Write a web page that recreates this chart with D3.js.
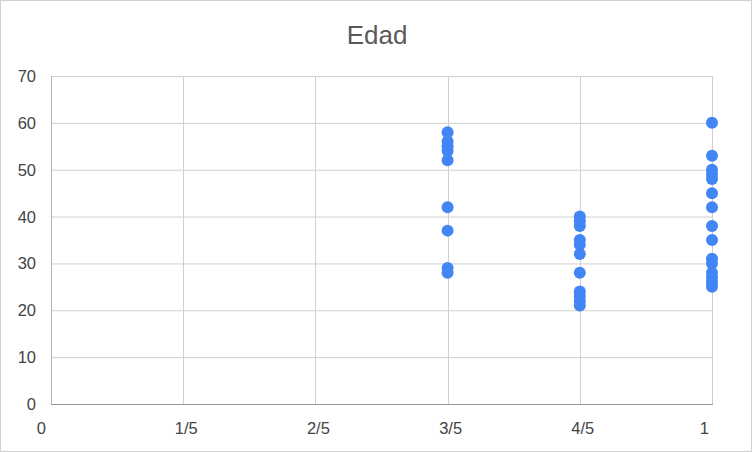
<!DOCTYPE html>
<html><head><meta charset="utf-8">
<script src="https://cdn.jsdelivr.net/npm/d3@7"></script>
<style>body{margin:0;background:#fff}svg{display:block;font-family:"Liberation Sans",Arial,sans-serif}</style>
</head><body><svg id="c" width="752" height="452"></svg>
<script>
const title = "Edad";
const xTicks = [0, 0.2, 0.4, 0.6, 0.8, 1];
const xTickLabels = ["0", "1/5", "2/5", "3/5", "4/5", "1"];
const yTicks = [0, 10, 20, 30, 40, 50, 60, 70];
const xValues = [
  0.6,0.6,0.6,0.6,0.6,0.6,0.6,0.6,0.6,
  0.8,0.8,0.8,0.8,0.8,0.8,0.8,0.8,0.8,0.8,0.8,
  1,1,1,1,1,1,1,1,1,1,1,1,1,1,1
];
const edad = [
  58,56,55,54,52,42,37,29,28,
  40,39,38,35,34,32,28,24,23,22,21,
  60,53,50,49,48,45,42,38,35,31,30,28,27,26,25
];

const svg = d3.select("#c");
const W = 752, H = 452;
const m = {left: 51, right: 40, top: 76, bottom: 48};
const x = d3.scaleLinear().domain([0, 1]).range([m.left, W - m.right]);
const y = d3.scaleLinear().domain([0, 70]).range([H - m.bottom, m.top]);

svg.append("rect").attr("x", 0.5).attr("y", 0.5).attr("width", W - 1).attr("height", H - 1)
  .attr("fill", "#fff").attr("stroke", "#d0d0d0");

svg.append("text").attr("x", W / 2 + 1).attr("y", 44).attr("text-anchor", "middle")
  .attr("font-size", 26).attr("fill", "#595959").text(title);

// horizontal gridlines
svg.append("g").selectAll("line").data(yTicks.filter(d => d > 0)).join("line")
  .attr("x1", m.left).attr("x2", W - m.right)
  .attr("y1", d => y(d) + 0.5).attr("y2", d => y(d) + 0.5)
  .attr("stroke", "#cfcfcf").attr("stroke-width", 1);
// vertical gridlines
svg.append("g").selectAll("line").data(xTicks.filter(d => d > 0)).join("line")
  .attr("x1", d => Math.round(x(d)) + 0.5).attr("x2", d => Math.round(x(d)) + 0.5)
  .attr("y1", m.top).attr("y2", H - m.bottom)
  .attr("stroke", "#cfcfcf").attr("stroke-width", 1);

// axes lines
svg.append("line").attr("x1", m.left + 0.5).attr("x2", m.left + 0.5)
  .attr("y1", m.top).attr("y2", H - m.bottom + 1).attr("stroke", "#b5b5b5");
svg.append("line").attr("x1", m.left).attr("x2", W - m.right + 1)
  .attr("y1", y(0) + 0.5).attr("y2", y(0) + 0.5).attr("stroke", "#999");

// y labels
svg.append("g").selectAll("text").data(yTicks).join("text")
  .attr("x", 36).attr("y", d => y(d) + 6).attr("text-anchor", "end")
  .attr("font-size", 16.5).attr("fill", "#444").text(d => d);

// x labels
const anchors = ["end", "middle", "middle", "middle", "middle", "end"];
const dxs = [-5, 3, 3, 3, 3, -3];
svg.append("g").selectAll("text").data(xTicks).join("text")
  .attr("x", (d, i) => x(d) + dxs[i]).attr("y", 434)
  .attr("text-anchor", (d, i) => anchors[i])
  .attr("font-size", 16.5).attr("fill", "#444").text((d, i) => xTickLabels[i]);

// points
svg.append("g").selectAll("circle").data(edad).join("circle")
  .attr("cx", (d, i) => x(xValues[i])).attr("cy", d => y(d))
  .attr("r", 6).attr("fill", "#4285f4");
</script></body></html>
